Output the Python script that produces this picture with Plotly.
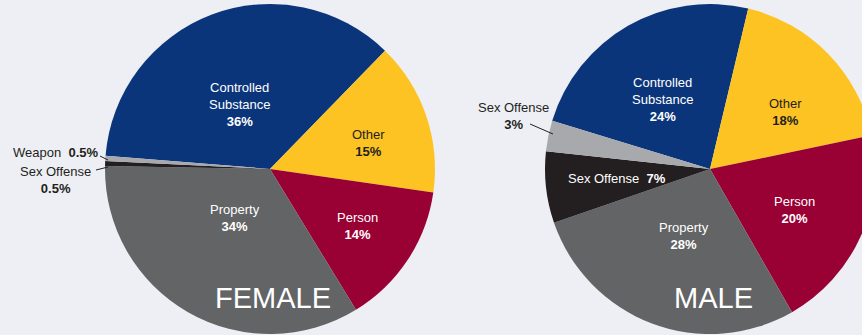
import plotly.graph_objects as go

# Offense categories and shares (%) by sex
female_labels = ["Controlled<br>Substance", "Other", "Person", "Property", "Sex Offense", "Weapon"]
female_values = [36, 15, 14, 34, 0.5, 0.5]

male_labels = ["Controlled<br>Substance", "Other", "Person", "Property", "Sex Offense", "Sex Offense"]
male_values = [24, 18, 20, 28, 7, 3]

slice_colors = ["#0b357a", "#fcc322", "#990033", "#636466", "#231f20", "#a7a9ac"]

FONT = "Liberation Sans, Arial, sans-serif"
DARK = "#231f20"
W, H = 880, 335
R = 165


def px(x):
    return x / W


def py(y):
    return 1 - y / H


fig = go.Figure()


def add_pie(values, cx, cy, rotation):
    fig.add_trace(go.Pie(
        labels=[f"s{i}" for i in range(len(values))],
        values=values,
        sort=False,
        direction="clockwise",
        rotation=rotation,
        marker=dict(colors=slice_colors, line=dict(width=0)),
        textinfo="none",
        hoverinfo="skip",
        showlegend=False,
        domain=dict(x=[(cx - R) / W, min(1, (cx + R) / W)],
                    y=[(H - cy - R) / H, (H - cy + R) / H]),
    ))


add_pie(female_values, 270, 169, -85.4)
add_pie(male_values, 710, 169, -73)

annotations = []


def label(x, y, text, color="white", size=13):
    annotations.append(dict(
        x=px(x), y=py(y), text=text, xref="paper", yref="paper", showarrow=False,
        xanchor="center", yanchor="middle",
        font=dict(family=FONT, size=size, color=color),
    ))


def slice_text(lab, val, one_line=False):
    sep = "  " if one_line else "<br>"
    return f"{lab}{sep}<b>{val:g}%</b>"


def color_for(lab):
    return DARK if lab == "Other" else "white"


# label anchor points (pixels) for each slice, in slice order
female_pos = [(240, 104), (368, 143), (357, 226), (235, 218)]
male_pos = [(662, 100), (785, 112), (794, 210), (684, 236), (617, 178)]

for i, (x, y) in enumerate(female_pos):
    label(x, y, slice_text(female_labels[i], female_values[i]), color_for(female_labels[i]))
for i, (x, y) in enumerate(male_pos):
    label(x, y, slice_text(male_labels[i], male_values[i], one_line=(i == 4)),
          color_for(male_labels[i]))

# outside labels for the thin slices
label(55, 152, slice_text(female_labels[5], female_values[5], one_line=True), DARK)
label(55, 180, slice_text(female_labels[4], female_values[4]), DARK)
label(513, 116, slice_text(male_labels[5], male_values[5]), DARK)

# panel titles
label(273, 298, "FEMALE", size=29)
label(713, 298, "MALE", size=29)

shapes = [
    dict(type="line", x0=px(100), y0=py(156), x1=px(108), y1=py(160)),
    dict(type="line", x0=px(96), y0=py(170), x1=px(108), y1=py(167)),
    dict(type="line", x0=px(530), y0=py(124), x1=px(553), y1=py(134)),
]
for s in shapes:
    s.update(xref="paper", yref="paper", line=dict(color=DARK, width=1))

fig.update_layout(
    width=W, height=H,
    margin=dict(l=0, r=0, t=0, b=0),
    paper_bgcolor="#eeeff5",
    plot_bgcolor="#eeeff5",
    annotations=annotations,
    shapes=shapes,
)

fig.write_html(
    "out.html",
    post_script="document.documentElement.style.overflow='hidden';document.body.style.overflow='hidden';document.body.style.margin='0';",
)
